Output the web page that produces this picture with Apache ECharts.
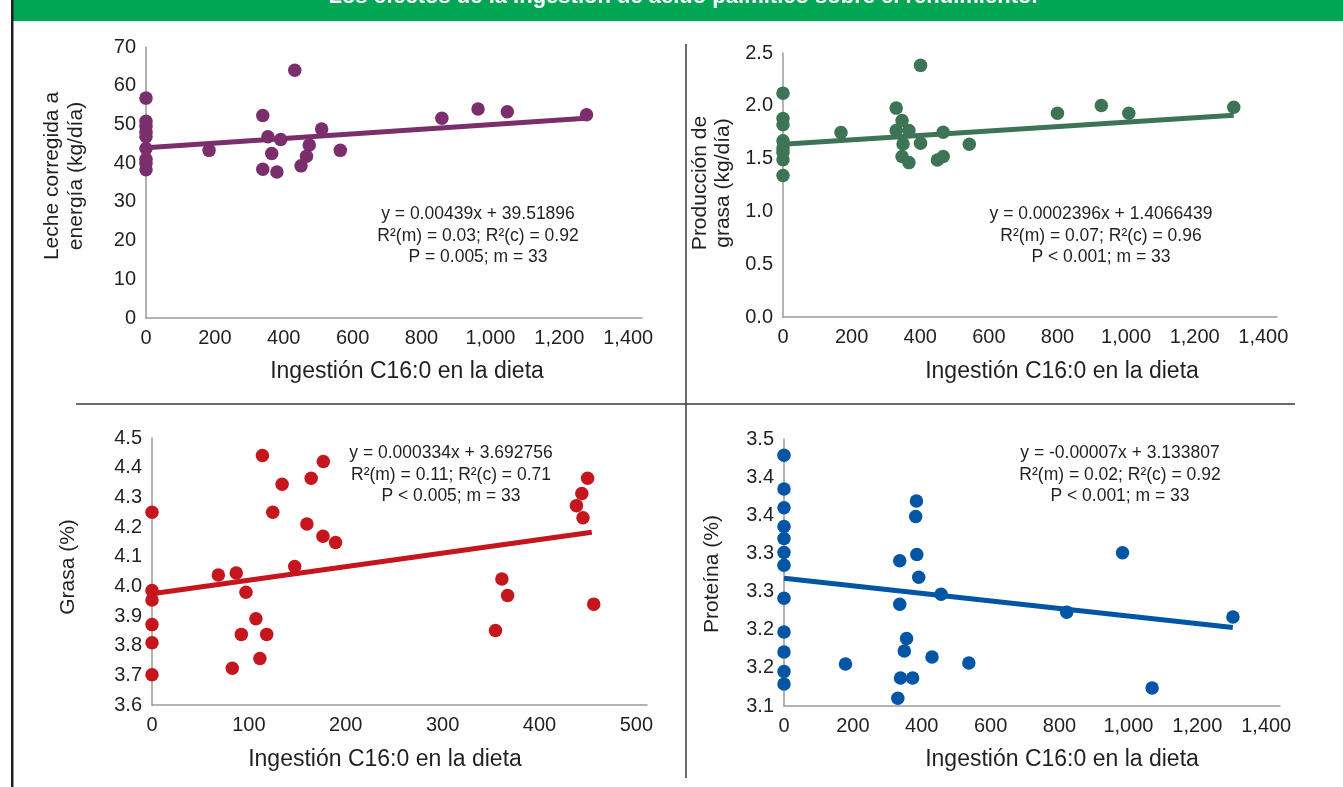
<!DOCTYPE html>
<html><head><meta charset="utf-8">
<script src="https://cdn.jsdelivr.net/npm/echarts@6/dist/echarts.min.js"></script>
<style>html,body{margin:0;padding:0;background:#fff}#c{width:1343px;height:787px}</style>
</head><body><div id="c"></div>
<script>
// ---- Data ----
const title = 'Los efectos de la ingestión de ácido palmítico sobre el rendimiento.';
const xTitle = 'Ingestión C16:0 en la dieta';

// Panel 1: Leche corregida a energía (kg/día)
const leche = [[0,56.8],[0,50.8],[0,49.5],[0,48.0],[0,46.8],[0,43.8],[0,41.0],[0,40.0],[0,38.3],
  [183,43.3],[339,52.3],[339,38.4],[354,46.8],[365,42.5],[380,37.7],[391,46.1],[432,64.0],[450,39.3],
  [466,41.8],[474,44.7],[510,48.8],[564,43.3],[859,51.6],[964,54.0],[1049,53.3],[1279,52.5]];
const lecheTrend = [[0,44.0],[1277,51.6]];
const lecheEq = ['y = 0.00439x + 39.51896','R²(m) = 0.03; R²(c) = 0.92','P = 0.005; m = 33'];

// Panel 2: Producción de grasa (kg/día)
const prodGrasa = [[0,2.12],[0,1.88],[0,1.82],[0,1.67],[0,1.60],[0,1.56],[0,1.49],[0,1.34],
  [169,1.747],[330,1.978],[330,1.766],[347,1.861],[350,1.639],[347,1.519],[367,1.766],[367,1.462],
  [401,2.383],[401,1.646],[450,1.487],[467,1.519],[467,1.75],[543,1.636],[800,1.93],[928,2.003],
  [1008,1.93],[1314,1.987]];
const prodGrasaTrend = [[0,1.635],[1314,1.91]];
const prodGrasaEq = ['y = 0.0002396x + 1.4066439','R²(m) = 0.07; R²(c) = 0.96','P < 0.001; m = 33'];

// Panel 3: Grasa (%)
const grasa = [[0,4.25],[0,3.986],[0,3.954],[0,3.871],[0,3.81],[0,3.702],
  [68.5,4.038],[82.9,3.724],[87,4.045],[92.2,3.838],[97,3.98],[107.3,3.891],[111.4,3.757],[114,4.441],
  [118.4,3.838],[124.7,4.25],[134.3,4.344],[147.3,4.067],[159.9,4.21],[164.3,4.364],[176.5,4.169],
  [176.9,4.421],[189.5,4.148],[354.6,3.851],[361.2,4.025],[367.1,3.969],[438.2,4.272],[443.7,4.313],
  [444.9,4.231],[449.7,4.364],[456,3.94]];
const grasaTrend = [[0,3.975],[454,4.182]];
const grasaEq = ['y = 0.000334x + 3.692756','R²(m) = 0.11; R²(c) = 0.71','P < 0.005; m = 33'];

// Panel 4: Proteína (%)
const proteina = [[0,3.4286],[0,3.3844],[0,3.3599],[0,3.3354],[0,3.3196],[0,3.3013],[0,3.2846],
  [0,3.2413],[0,3.1971],[0,3.1709],[0,3.1451],[0,3.1289],
  [178.5,3.1551],[330.5,3.1101],[336,3.2903],[336,3.2334],[338.3,3.1368],[349.3,3.1722],[355.9,3.1884],
  [373.5,3.1368],[382.3,3.3485],[384.5,3.3686],[385.6,3.2986],[391.1,3.2689],[429.7,3.1643],
  [456.1,3.2466],[536.6,3.1564],[820.8,3.2229],[982.8,3.3008],[1068.7,3.1236],[1303.4,3.2168]];
const proteinaTrend = [[0,3.2676],[1303,3.2028]];
const proteinaEq = ['y = -0.00007x + 3.133807','R²(m) = 0.02; R²(c) = 0.92','P < 0.001; m = 33'];
const proteinaTicks = ['3.1','3.2','3.2','3.3','3.3','3.4','3.4','3.5'];

// ---- Chart ----
const txt = '#231f20';
const FONT = '"Liberation Sans", Arial, sans-serif';
const colors = ['#7a2e6c','#3d7456','#c5161d','#0055a4'];

const grids = [
  {left:146, top:47, width:496, height:271},
  {left:783, top:53, width:494, height:264},
  {left:152, top:438, width:495, height:267},
  {left:784, top:439, width:496, height:267}
];
const fmtThousands = v => Math.round(v).toLocaleString('en-US');
const xCfg = [
  {min:0,max:1440,interval:200,fmt:fmtThousands},
  {min:0,max:1440,interval:200,fmt:fmtThousands},
  {min:0,max:511,interval:100,fmt:fmtThousands},
  {min:0,max:1440,interval:200,fmt:fmtThousands}
];
const yCfg = [
  {min:0,max:70,interval:10,fmt:v=>String(Math.round(v))},
  {min:0,max:2.5,interval:0.5,fmt:v=>v.toFixed(1)},
  {min:3.6,max:4.5,interval:0.1,fmt:v=>v.toFixed(1)},
  {min:3.1,max:3.45,interval:0.05,fmt:v=>proteinaTicks[Math.round((v-3.1)/0.05)]}
];
const axisLine = {show:true, lineStyle:{color:'#9a9a9a', width:1.5}};
const xAxes = xCfg.map((c,i)=>({type:'value', gridIndex:i, min:c.min, max:c.max, interval:c.interval,
  axisLine, axisTick:{show:false}, splitLine:{show:false},
  axisLabel:{color:txt, fontSize:20, fontFamily:FONT, margin:10, showMaxLabel:false, formatter:c.fmt}}));
const yAxes = yCfg.map((c,i)=>({type:'value', gridIndex:i, min:c.min, max:c.max, interval:c.interval,
  axisLine, axisTick:{show:false}, splitLine:{show:false},
  axisLabel:{color:txt, fontSize:20, fontFamily:FONT, margin:10, formatter:c.fmt}}));

const datasets = [leche, prodGrasa, grasa, proteina];
const trends = [lecheTrend, prodGrasaTrend, grasaTrend, proteinaTrend];
const series = [];
datasets.forEach((d,i)=>{
  series.push({type:'line', xAxisIndex:i, yAxisIndex:i, data:trends[i], symbol:'none',
    lineStyle:{color:colors[i], width:5}, z:2, silent:true});
  series.push({type:'scatter', xAxisIndex:i, yAxisIndex:i, data:d, symbolSize:13.5,
    itemStyle:{color:colors[i], opacity:1}, z:3});
});

const eqs = [lecheEq, prodGrasaEq, grasaEq, proteinaEq];
const eqPos = [[478,214],[1101,214],[451,453],[1120,453]];
const graphic = [
  {type:'rect', shape:{x:12,y:0,width:1331,height:21}, style:{fill:'#00a651'}},
  {type:'text', x:683, y:-3, style:{text:title, fill:'#fff', font:'bold 22px '+FONT, textAlign:'center', textVerticalAlign:'middle'}},
  {type:'rect', shape:{x:11,y:0,width:2.5,height:787}, style:{fill:txt}},
  {type:'line', shape:{x1:76,y1:404,x2:1295,y2:404}, style:{stroke:'#3a3a3a', lineWidth:1.5}},
  {type:'line', shape:{x1:686,y1:44,x2:686,y2:778}, style:{stroke:'#3a3a3a', lineWidth:1.5}}
];
eqs.forEach((e,i)=>{
  e.forEach((line,j)=>{
    graphic.push({type:'text', x:eqPos[i][0], y:eqPos[i][1]+j*21.7,
      style:{text:line, fill:txt, font:'17.5px '+FONT, textAlign:'center', textVerticalAlign:'middle'}});
  });
});
// x-axis titles
[[407,372],[1062,372],[385,760],[1062,760]].forEach(p=>{
  graphic.push({type:'text', x:p[0], y:p[1], style:{text:xTitle, fill:txt, font:'23px '+FONT, textAlign:'center', textVerticalAlign:'middle'}});
});
// y-axis titles
const yTitles = [
  {x:52, y:176, t:'Leche corregida a'},{x:76, y:176, t:'energía (kg/día)'},
  {x:700, y:183, t:'Producción de'},{x:723, y:183, t:'grasa (kg/día)'},
  {x:68, y:567, t:'Grasa (%)'},
  {x:712, y:574, t:'Proteína (%)'}
];
yTitles.forEach(o=>{
  graphic.push({type:'text', x:o.x, y:o.y, rotation:Math.PI/2,
    style:{text:o.t, fill:txt, font:'21px '+FONT, textAlign:'center', textVerticalAlign:'middle'}});
});

const chart = echarts.init(document.getElementById('c'), null, {renderer:'canvas'});
chart.setOption({
  animation:false,
  backgroundColor:'#fff',
  grid:grids,
  xAxis:xAxes, yAxis:yAxes,
  series, graphic
});
</script></body></html>
